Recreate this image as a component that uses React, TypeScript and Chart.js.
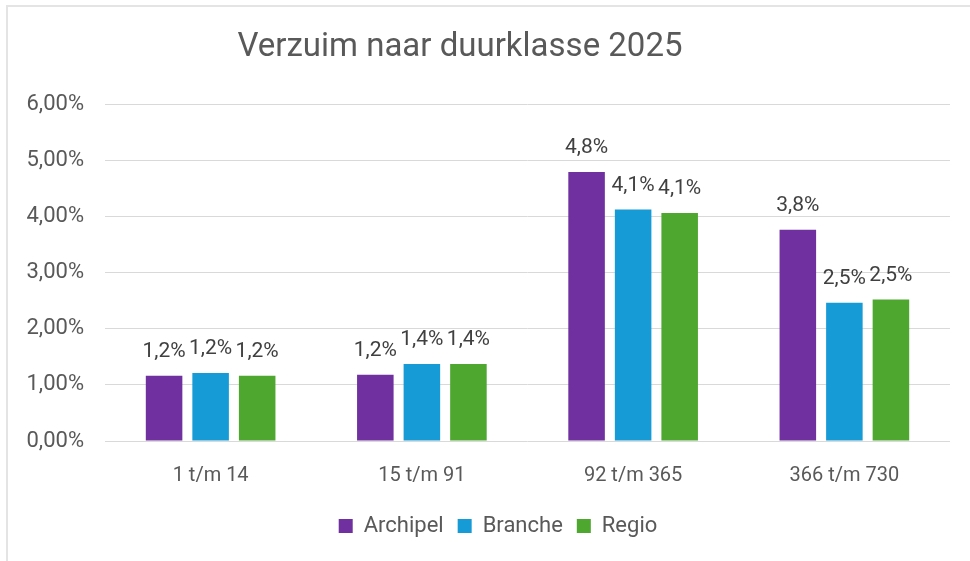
import React, { useEffect, useRef } from "react";
import { Chart, registerables } from "chart.js";

Chart.register(...registerables);

const categories = ["1 t/m 14", "15 t/m 91", "92 t/m 365", "366 t/m 730"];
const seriesNames = ["Archipel", "Branche", "Regio"];
const archipel = [1.16, 1.18, 4.79, 3.76];
const branche = [1.21, 1.37, 4.12, 2.46];
const regio = [1.16, 1.37, 4.06, 2.52];
const yTicks = [0, 1, 2, 3, 4, 5, 6];
const title = "Verzuim naar duurklasse 2025";

const colors = ["#7030A0", "#179BD7", "#4EA72E"];
const FONT = "Roboto, 'Open Sans', sans-serif";

const fmtTick = (v: number) => v.toFixed(2).replace(".", ",") + "%";
const fmtLabel = (v: number) => v.toFixed(1).replace(".", ",") + "%";

const dataLabelPlugin = {
  id: "dataLabels",
  afterDatasetsDraw(chart: any) {
    const ctx = chart.ctx;
    ctx.save();
    ctx.font = `21px ${FONT}`;
    ctx.fillStyle = "#404040";
    ctx.textAlign = "center";
    ctx.textBaseline = "middle";
    chart.data.datasets.forEach((ds: any, di: number) => {
      const meta = chart.getDatasetMeta(di);
      meta.data.forEach((bar: any, i: number) => {
        ctx.fillText(fmtLabel(ds.data[i]), bar.x, bar.y - 24);
      });
    });
    ctx.restore();
  },
};

const titlePlugin = {
  id: "customTitle",
  afterDraw(chart: any) {
    const ctx = chart.ctx;
    ctx.save();
    ctx.font = `33px ${FONT}`;
    ctx.fillStyle = "#595959";
    ctx.textAlign = "center";
    ctx.textBaseline = "middle";
    ctx.fillText(title, 460, 48);
    ctx.restore();
  },
};

const legendShiftPlugin = {
  id: "legendShift",
  afterLayout(chart: any) {
    if (chart.legend) chart.legend.left = 46;
  },
};

export default function App() {
  const ref = useRef<HTMLCanvasElement>(null);
  useEffect(() => {
    if (!ref.current) return;
    const chart = new Chart(ref.current, {
      type: "bar",
      data: {
        labels: categories,
        datasets: [archipel, branche, regio].map((d, i) => ({
          label: seriesNames[i],
          data: d,
          backgroundColor: colors[i],
          borderWidth: 0,
          categoryPercentage: 0.661,
          barPercentage: 0.785,
        })),
      },
      options: {
        responsive: false,
        animation: false,
        layout: { padding: { left: 0, right: 20, top: 104, bottom: 14 } },
        plugins: {
          title: { display: false },
          legend: {
            position: "bottom",
            labels: {
              color: "#595959",
              font: { family: FONT, size: 22 },
              boxWidth: 14,
              boxHeight: 14,
              padding: 14,
            },
          },
          tooltip: { enabled: false },
        },
        scales: {
          x: {
            afterFit: (s: any) => {
              s.height = 60;
            },
            grid: { display: false },
            border: { display: false },
            ticks: { color: "#595959", font: { family: FONT, size: 20 }, padding: 15 },
          },
          y: {
            min: 0,
            max: 6,
            afterFit: (s: any) => {
              s.width = 105;
            },
            afterBuildTicks: (s: any) => {
              s.ticks = yTicks.map((v) => ({ value: v }));
            },
            grid: { color: "#d9d9d9", lineWidth: 1, drawTicks: false },
            border: { display: false },
            ticks: {
              color: "#595959",
              font: { family: FONT, size: 22 },
              padding: 21,
              callback: (v: any) => fmtTick(Number(v)),
            },
          },
        },
      },
      plugins: [dataLabelPlugin, titlePlugin, legendShiftPlugin],
    });
    return () => chart.destroy();
  }, []);

  return (
    <div style={{ position: "absolute", left: 0, top: 0, width: 970, height: 561, background: "#fff" }}>
      <canvas ref={ref} width={970} height={561} style={{ display: "block" }} />
      <div
        style={{
          position: "absolute",
          left: 6,
          top: 5,
          right: 0,
          bottom: 0,
          borderTop: "2px solid #e4e4e4",
          borderLeft: "2px solid #e4e4e4",
          pointerEvents: "none",
        }}
      />
    </div>
  );
}
